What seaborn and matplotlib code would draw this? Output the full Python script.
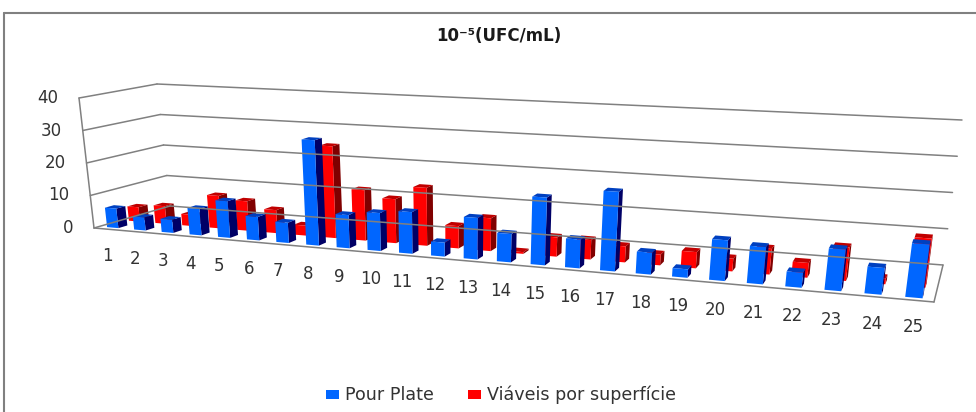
import numpy as np
import pandas as pd
import seaborn as sns
import matplotlib.pyplot as plt
from matplotlib.lines import Line2D
from matplotlib.patches import Polygon
from matplotlib.transforms import Transform

amostras = [str(i) for i in range(1, 26)]
pour_plate = [6, 4, 4, 8, 11, 7, 6, 31, 9.7, 11, 12, 4, 11.8, 8, 19, 8, 22, 6, 2.3, 11, 10, 4, 11, 7, 14]
viaveis = [4.5, 5.5, 3.5, 10, 9, 7, 3, 27.5, 15, 13, 17, 6.5, 9.5, 0.5, 5.5, 5.5, 4.5, 3, 4.5, 3.5, 7, 4, 9, 1.5, 13]
series = ['Pour Plate', 'Viáveis por superfície']
y_ticks = [0, 10, 20, 30, 40]

W, H = 976, 412
BAR_W = 0.42

# cantos da caixa 3D em pixels (frente/fundo, base/topo, esq/dir)
F_BL, F_BR, F_TL, F_TR = (94, 228), (934, 302), (79, 98), (955, 147)
B_BL, B_BR, B_TL, B_TR = (170, 206), (943, 265), (157, 84), (962, 120)
PERSP = 1.25


def project(x, v, w):
    x, v, w = np.asarray(x, float), np.asarray(v, float), np.asarray(w, float)
    u = (x + 0.5) / len(amostras)
    t = u / (u + PERSP * (1 - u))
    s = v / 40
    out = []
    for k in range(2):
        front = (1 - t) * ((1 - s) * F_BL[k] + s * F_TL[k]) + t * ((1 - s) * F_BR[k] + s * F_TR[k])
        back = (1 - t) * ((1 - s) * B_BL[k] + s * B_TL[k]) + t * ((1 - s) * B_BR[k] + s * B_TR[k])
        out.append((1 - w) * front + w * back)
    return np.column_stack([out[0], H - out[1]])


class Proj(Transform):
    input_dims = 2
    output_dims = 2

    def __init__(self, w):
        super().__init__()
        self.w = w

    def transform_non_affine(self, values):
        values = np.asarray(values)
        return project(values[:, 0], values[:, 1], np.full(len(values), self.w))


sns.set_theme(style='white')
plt.rcParams['font.family'] = ['DejaVu Sans']
fig = plt.figure(figsize=(W / 100, H / 100), dpi=100)
ax = fig.add_axes([0, 0, 1, 1])

df = pd.DataFrame({
    'amostra': amostras * 2,
    'ufc': pour_plate + viaveis,
    'serie': [series[0]] * 25 + [series[1]] * 25,
})
sns.barplot(data=df, x='amostra', y='ufc', hue='serie', hue_order=series,
            palette=['#0066FF', '#FF0000'], dodge=False, width=BAR_W,
            errorbar=None, saturation=1, legend=False, ax=ax)
ax.set_axis_off()

# paredes e chao
x0, x1 = -0.5, len(amostras) - 0.5
wall = dict(color='#808080', lw=1.1, transform=None, clip_on=False, zorder=1)


def wall_line(a, b):
    pts = project([a[0], b[0]], [a[1], b[1]], [a[2], b[2]])
    fig.add_artist(Line2D(pts[:, 0], pts[:, 1], **wall))


for v in y_ticks:
    wall_line((x0, v, 0), (x0, v, 1))
    wall_line((x0, v, 1), (x1, v, 1))
wall_line((x0, 0, 0), (x1, 0, 0))
wall_line((x1, 0, 0), (x1, 0, 1))
wall_line((x0, 0, 0), (x0, 40, 0))

# barras: a serie vermelha fica atras da azul
rows = [(ax.containers[1], 0.36, '#800000', '#C00000', 2), (ax.containers[0], 0.07, '#000066', '#0040C0', 4)]
DEPTH = 0.12
for bars, w, side_c, top_c, z in rows:
    for i, bar in enumerate(bars):
        bar.set_transform(Proj(w))
        bar.set_clip_on(False)
        bar.set_edgecolor('none')
        bar.set_zorder(z + i * 0.01 + 0.005)
        xa, xb = bar.get_x(), bar.get_x() + bar.get_width()
        h = bar.get_height()
        side = project([xb, xb, xb, xb], [0, h, h, 0], [w, w, w + DEPTH, w + DEPTH])
        top = project([xa, xb, xb, xa], [h, h, h, h], [w, w, w + DEPTH, w + DEPTH])
        for pts, c in [(side, side_c), (top, top_c)]:
            ax.add_patch(Polygon(pts, closed=True, facecolor=c, edgecolor='none',
                                 transform=None, clip_on=False, zorder=z + i * 0.01))

# rotulos
txt = '#333333'
for v in y_ticks:
    p = project([x0], [v], [0])[0]
    fig.text((p[0] - 21) / W, p[1] / H, str(v), ha='right', va='center', fontsize=12, color=txt)
for i, a in enumerate(amostras):
    p = project([i], [0], [0])[0]
    fig.text(p[0] / W, (p[1] - 27) / H, a, ha='center', va='center', fontsize=12, color=txt)

fig.text(499 / W, (H - 36) / H, '10⁻⁵(UFC/mL)', ha='center', va='center',
         fontsize=12, fontweight='bold', color='#1a1a1a')

# legenda
for xm, c, label in [(326, '#0066FF', series[0]), (468, '#FF0000', series[1])]:
    fig.patches.append(Polygon([(xm, H - 390), (xm + 13, H - 390), (xm + 13, H - 399), (xm, H - 399)],
                               closed=True, facecolor=c, edgecolor='none', transform=None, figure=fig))
    fig.text((xm + 19) / W, (H - 395) / H, label, ha='left', va='center', fontsize=12.6, color=txt)

# moldura do grafico (so em cima e a esquerda)
fig.add_artist(Line2D([3.5, W], [H - 12.5, H - 12.5], color='#808080', lw=1.5, transform=None))
fig.add_artist(Line2D([3.5, 3.5], [0, H - 12.5], color='#808080', lw=1.5, transform=None))

fig.savefig('out.png', dpi=100)
